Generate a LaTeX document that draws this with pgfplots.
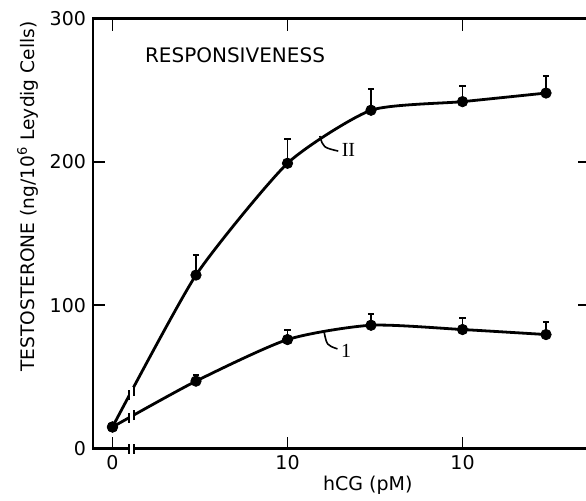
\documentclass[border=0pt]{standalone}
\usepackage{fontspec}
\setmainfont{DejaVu Sans}
\newfontfamily\serifnum{Liberation Serif}
\usepackage{pgfplots}
\usepackage{pgfplotstable}
\pgfplotsset{compat=1.18}
% c = hCG (pM), 0 pM control plotted at the position labelled 0 (c=1)
\pgfplotstableread{
c t e
1 15 0
3 121 14
10 199 17
30 236 15
100 242 11
300 248 12
}\curveII
\pgfplotstableread{
c t e
1 15 0
3 47 4
10 76 7
30 86 8
100 83 8
300 79.5 8.5
}\curveI
\begin{document}
\begin{tikzpicture}
\useasboundingbox (0,0) rectangle (293pt,250pt);
\clip (0,0) rectangle (293pt,250pt);
\begin{axis}[
  at={(46.5pt,25.75pt)}, anchor=south west,
  scale only axis, width=248.5pt, height=215pt,
  xmode=log, xmin=0.774, xmax=535,
  ymin=0, ymax=300,
  xtick={1,10,100}, xticklabels={0,10,10},
  xminorticks=false, yminorticks=false, ytick={0,100,200,300},
  tick align=inside, major tick length=6pt,
  tick style={line width=0.7pt, black},
  axis line style={line width=1.2pt},
  ticklabel style={font=\fontsize{9.5}{11}\selectfont},
  /pgf/number format/assume math mode=true,
  xlabel={hCG (pM)},
  xlabel style={font=\fontsize{9.5}{11}\selectfont, at={(axis description cs:0.553,-0.085)}, anchor=center},
  ylabel={TESTOSTERONE (ng/10\textsuperscript{6} Leydig Cells)},
  ylabel style={font=\fontsize{9.3}{11}\selectfont, at={(axis description cs:-0.131,0.586)}, anchor=center},
  clip=false,
]
\addplot[smooth, tension=0.35, line width=1.4pt, black] table[x=c,y=t] {\curveII};
\addplot[smooth, tension=0.4, line width=1.4pt, black] table[x=c,y=t] {\curveI};
% axis and curve breaks
\fill[white] ([yshift=-1.2pt]axis cs:1.255,0) rectangle ([yshift=1.2pt]axis cs:1.315,0);
\draw[line width=0.8pt] ([yshift=-2.5pt]axis cs:1.243,0) -- ([yshift=2.5pt]axis cs:1.243,0);
\draw[line width=0.8pt] ([yshift=-2.5pt]axis cs:1.327,0) -- ([yshift=2.5pt]axis cs:1.327,0);
\fill[white] ([yshift=-3pt]axis cs:1.255,38.5) rectangle ([yshift=3pt]axis cs:1.315,38.5);
\draw[line width=0.8pt] ([yshift=-2.5pt]axis cs:1.243,37) -- ([yshift=2.5pt]axis cs:1.243,37);
\draw[line width=0.8pt] ([yshift=-2.5pt]axis cs:1.327,40) -- ([yshift=2.5pt]axis cs:1.327,40);
\fill[white] ([yshift=-3pt]axis cs:1.255,22) rectangle ([yshift=3pt]axis cs:1.315,22);
\draw[line width=0.8pt] ([yshift=-2.5pt]axis cs:1.243,21.3) -- ([yshift=2.5pt]axis cs:1.243,21.3);
\draw[line width=0.8pt] ([yshift=-2.5pt]axis cs:1.327,23.3) -- ([yshift=2.5pt]axis cs:1.327,23.3);
% data points with error bars
\addplot[only marks, mark=*, mark size=2.6pt, black,
  error bars/.cd, y dir=plus, y explicit,
  error bar style={line width=0.8pt},
  error mark options={rotate=90, mark size=1.6pt, line width=1pt}]
  table[x=c,y=t,y error=e] {\curveII};
\addplot[only marks, mark=*, mark size=2.6pt, black,
  error bars/.cd, y dir=plus, y explicit,
  error bar style={line width=0.8pt},
  error mark options={rotate=90, mark size=1.6pt, line width=1pt}]
  table[x=c,y=t,y error=e] {\curveI};
% labels
\node[anchor=west, font=\fontsize{10}{12}\selectfont] at (axis description cs:0.0905,0.915) {RESPONSIVENESS};
\draw[line width=0.8pt] (axis cs:15.3,218) .. controls (axis cs:16.0,210) .. (axis cs:19.5,207.5);
\node[anchor=west, inner sep=1pt, font=\serifnum\fontsize{10}{12}\selectfont] at (axis cs:19.8,208) {II};
\draw[line width=0.8pt] (axis cs:16.2,81) .. controls (axis cs:16.8,72) .. (axis cs:19.3,69.5);
\node[anchor=west, inner sep=1pt, font=\serifnum\fontsize{10}{12}\selectfont] at (axis cs:19.6,68) {1};
\end{axis}
\end{tikzpicture}
\end{document}
